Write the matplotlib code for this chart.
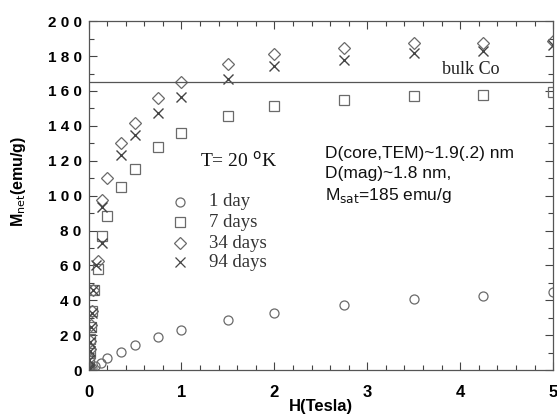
import matplotlib
matplotlib.use("Agg")
import matplotlib.pyplot as plt
from matplotlib.ticker import MultipleLocator, FuncFormatter

# Data (H in Tesla, M_net in emu/g)
h_1day = [0.0, 0.01, 0.02, 0.04, 0.07, 0.13, 0.2, 0.35, 0.5, 0.75, 1.0, 1.5, 2.0, 2.75, 3.5, 4.25, 5.0]
m_1day = [0.0, 0.4, 0.8, 1.5, 2.6, 4.2, 6.7, 10.5, 14.7, 19.1, 23.3, 28.7, 32.8, 37.1, 40.7, 42.6, 44.9]

h_7day = [0.0, 0.005, 0.01, 0.015, 0.02, 0.03, 0.04, 0.06, 0.1, 0.15, 0.2, 0.35, 0.5, 0.75, 1.0, 1.5, 2.0, 2.75, 3.5, 4.25, 5.0]
m_7day = [0.0, 2.0, 5.0, 10.0, 18.0, 25.0, 34.0, 46.0, 57.7, 76.8, 88.4, 104.9, 115.4, 127.8, 136.2, 145.7, 151.3, 155.1, 157.0, 157.6, 159.5]

h_34day = [0.0, 0.005, 0.01, 0.015, 0.02, 0.03, 0.04, 0.05, 0.1, 0.15, 0.2, 0.35, 0.5, 0.75, 1.0, 1.5, 2.0, 2.75, 3.5, 4.25, 5.0]
m_34day = [0.0, 2.0, 7.0, 12.0, 17.0, 26.0, 34.0, 46.0, 62.5, 97.4, 110.4, 129.9, 141.9, 155.7, 165.2, 175.2, 181.0, 184.7, 187.6, 187.6, 188.7]

h_94day = [0.0, 0.005, 0.01, 0.015, 0.02, 0.03, 0.04, 0.05, 0.08, 0.14, 0.15, 0.35, 0.5, 0.75, 1.0, 1.5, 2.0, 2.75, 3.5, 4.25, 5.0]
m_94day = [0.0, 1.0, 6.0, 11.0, 16.0, 25.0, 33.0, 46.0, 60.2, 73.0, 93.6, 123.2, 134.7, 147.5, 156.6, 166.8, 174.2, 178.0, 181.9, 183.0, 186.2]

bulk_co = 165

legend_labels = ["1 day", "7 days", "34 days", "94 days"]

fig = plt.figure(figsize=(5.57, 4.15), dpi=100)
ax = fig.add_axes([0.159, 0.108, 0.834, 0.841])

gray = "#6a6a6a"
kw = dict(linestyle="none", markerfacecolor="none", color=gray)
ax.plot(h_1day, m_1day, marker="o", markersize=6.5, markeredgewidth=0.9, **kw)
ax.plot(h_7day, m_7day, marker="s", markersize=6.5, markeredgewidth=0.9, **kw)
ax.plot(h_34day, m_34day, marker="D", markersize=6.5, markeredgewidth=0.9, **kw)
ax.plot(h_94day, m_94day, marker="x", markersize=7, markeredgewidth=1.0, color="#444444", linestyle="none")

ax.axhline(bulk_co, color="#555555", linewidth=0.9)
ax.text(4.42, 167.5, "bulk Co", ha="right", va="bottom", fontsize=13,
        family="Liberation Serif", color="#222222")

ax.set_xlim(0, 5)
ax.set_ylim(0, 200)
ax.xaxis.set_major_locator(MultipleLocator(1))
ax.xaxis.set_minor_locator(MultipleLocator(0.2))
ax.yaxis.set_major_locator(MultipleLocator(20))
ax.yaxis.set_minor_locator(MultipleLocator(10))
ax.tick_params(which="both", direction="in", top=True, right=True, color="#444444")
ax.tick_params(which="major", length=6, width=0.8)
ax.tick_params(which="minor", length=3.5, width=0.8)
ax.tick_params(axis="x", which="major", pad=11)
ax.tick_params(axis="y", which="major", pad=5)

spaced = FuncFormatter(lambda v, p: " ".join(str(int(round(v)))))
ax.yaxis.set_major_formatter(spaced)
ax.xaxis.set_major_formatter(FuncFormatter(lambda v, p: str(int(round(v)))))
for lab in ax.get_yticklabels():
    lab.set_fontfamily("Liberation Sans")
    lab.set_fontweight("bold")
    lab.set_fontsize(11)
for lab in ax.get_xticklabels():
    lab.set_fontfamily("Liberation Sans")
    lab.set_fontweight("bold")
    lab.set_fontsize(12)

for s in ax.spines.values():
    s.set_color("#555555")
    s.set_linewidth(0.9)

ax.set_xlabel("H(Tesla)", fontsize=12, fontweight="bold", family="Liberation Sans", labelpad=-1)
ax.set_ylabel(r"M$_{\rm net}$(emu/g)", fontsize=11.5, fontweight="bold", family="Liberation Sans")
ax.yaxis.set_label_coords(-0.13, 0.54)

ax.text(1.2, 120, "T= 20 $^{\\rm o}$K", va="center", fontsize=14, family="Liberation Serif", color="#111111")

# manual legend
leg_y = [96.4, 84.8, 72.6, 61.9]
leg_markers = [("o", 6.5, gray), ("s", 6.5, gray), ("D", 6.5, gray), ("x", 7, "#444444")]
for yv, (mk, ms, c), lab in zip(leg_y, leg_markers, legend_labels):
    ax.plot([0.985], [yv], marker=mk, markersize=ms, markerfacecolor="none", color=c,
            markeredgewidth=0.9, linestyle="none", clip_on=False)
    ax.text(1.30, yv, lab, va="center", fontsize=13.5, family="Liberation Serif", color="#333333")

ax.text(2.545, 124, "D(core,TEM)~1.9(.2) nm", va="center", fontsize=12.5, family="Liberation Sans", color="#111111")
ax.text(2.545, 112.5, "D(mag)~1.8 nm,", va="center", fontsize=12.5, family="Liberation Sans", color="#111111")
ax.text(2.545, 100, r"M$_{\rm sat}$=185 emu/g", va="center", fontsize=12.5, family="Liberation Sans", color="#111111")

fig.savefig("out.png", dpi=100)
